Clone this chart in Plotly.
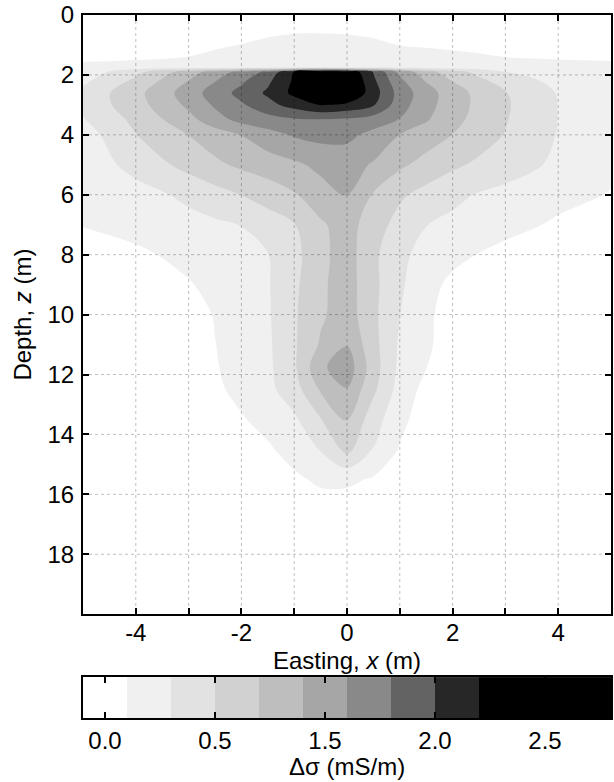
import plotly.graph_objects as go

# ---- data (delta sigma in mS/m) ----
easting = [-5, -4, -3, -2.5, -2, -1.5, -1, -0.5, 0, 0.5, 1, 1.5, 2, 2.5, 3, 4, 5]
depth = [0, 0.5, 1.0, 1.4, 1.75, 1.9, 2.2, 2.6, 3.0, 3.5, 4.0, 5.0, 6.0, 7.0, 8.0,
         9.0, 10.0, 11.0, 11.75, 12.5, 13.5, 14.5, 15.5, 16.5, 18.0, 20.0]
dsigma = [
    [0]*17,
    [0, 0, 0.01, 0.02, 0.03, 0.05, 0.07, 0.07, 0.066, 0.05, 0.03, 0.02, 0.01, 0, 0, 0, 0],
    [0, 0.02, 0.06, 0.08, 0.104, 0.15, 0.19, 0.2, 0.18, 0.14, 0.094, 0.076, 0.06, 0.044, 0.03, 0.01, 0],
    [0.03, 0.06, 0.102, 0.13, 0.16, 0.18, 0.2, 0.21, 0.21, 0.2, 0.19, 0.18, 0.15, 0.124, 0.098, 0.07, 0.05],
    [0.18, 0.2, 0.21, 0.22, 0.23, 0.24, 0.26, 0.26, 0.26, 0.25, 0.24, 0.23, 0.22, 0.21, 0.2, 0.19, 0.18],
    [0.18, 0.44, 0.802, 0.994, 1.162, 1.346, 1.71, 2.0, 1.88, 1.49, 1.044, 0.778, 0.592, 0.44, 0.302, 0.22, 0.18],
    [0.258, 0.542, 0.904, 1.092, 1.266, 1.46, 1.73, 2.1, 1.96, 1.542, 1.146, 0.888, 0.694, 0.55, 0.418, 0.24, 0.16],
    [0.354, 0.638, 0.996, 1.194, 1.362, 1.534, 1.75, 2.1, 1.92, 1.594, 1.218, 0.986, 0.796, 0.642, 0.512, 0.288, 0.18],
    [0.354, 0.62, 0.94, 1.128, 1.272, 1.434, 1.58, 1.71, 1.66, 1.52, 1.186, 0.968, 0.796, 0.65, 0.524, 0.296, 0.19],
    [0.286, 0.55, 0.834, 1.02, 1.16, 1.22, 1.27, 1.28, 1.26, 1.2, 1.09, 0.918, 0.762, 0.63, 0.512, 0.296, 0.19],
    [0.208, 0.494, 0.704, 0.8, 0.904, 1.026, 1.12, 1.16, 1.15, 1.042, 0.896, 0.8, 0.696, 0.594, 0.49, 0.29, 0.19],
    [0.172, 0.37, 0.566, 0.662, 0.738, 0.8, 0.862, 0.95, 0.98, 0.88, 0.738, 0.63, 0.538, 0.462, 0.396, 0.26, 0.14],
    [0.17, 0.22, 0.346, 0.424, 0.504, 0.59, 0.682, 0.82, 0.91, 0.684, 0.53, 0.434, 0.35, 0.284, 0.242, 0.158, 0.09],
    [0.11, 0.17, 0.236, 0.268, 0.304, 0.396, 0.49, 0.67, 0.79, 0.584, 0.434, 0.304, 0.254, 0.21, 0.164, 0.072, 0],
    [0, 0.062, 0.156, 0.202, 0.248, 0.296, 0.438, 0.65, 0.79, 0.544, 0.34, 0.24, 0.166, 0.092, 0.04, 0, 0],
    [0, 0, 0.086, 0.152, 0.218, 0.284, 0.458, 0.666, 0.79, 0.552, 0.328, 0.182, 0.046, 0, 0, 0, 0],
    [0, 0, 0, 0.114, 0.194, 0.276, 0.476, 0.67, 0.8, 0.544, 0.304, 0.146, 0, 0, 0, 0, 0],
    [0, 0, 0, 0.096, 0.184, 0.266, 0.472, 0.724, 0.89, 0.566, 0.272, 0.128, 0.02, 0, 0, 0, 0],
    [0, 0, 0, 0.086, 0.172, 0.258, 0.466, 0.86, 1.02, 0.588, 0.254, 0.104, 0, 0, 0, 0, 0],
    [0, 0, 0, 0.064, 0.154, 0.246, 0.414, 0.722, 0.89, 0.54, 0.22, 0.04, 0, 0, 0, 0, 0],
    [0, 0, 0, 0, 0.082, 0.172, 0.264, 0.49, 0.72, 0.386, 0.154, 0, 0, 0, 0, 0, 0],
    [0, 0, 0, 0, 0, 0.07, 0.184, 0.31, 0.56, 0.29, 0.084, 0, 0, 0, 0, 0, 0],
    [0, 0, 0, 0, 0, 0, 0.06, 0.14, 0.14, 0.08, 0, 0, 0, 0, 0, 0, 0],
    [0]*17,
    [0]*17,
    [0]*17,
]

# contour levels (mS/m) and band colours
levels = [0.1, 0.3, 0.5, 0.7, 0.9, 1.1, 1.3, 1.5, 1.7]
band_colors = ["#ffffff", "#f0f0f0", "#e2e2e2", "#d1d1d1", "#bebebe",
               "#a6a6a6", "#898989", "#636363", "#272727", "#000000"]
cbar_range = [-0.1, 2.3]
cbar_tickvals = [0.0, 0.5, 1.0, 1.5, 2.0]
cbar_ticktext = ["0.0", "0.5", "1.5", "2.0", "2.5"]

x_ticks = [-4, -3, -2, -1, 0, 1, 2, 3, 4]
x_ticklabels = ["-4", "", "-2", "", "0", "", "2", "", "4"]
z_ticks = [0, 2, 4, 6, 8, 10, 12, 14, 16, 18]

FONT = "Liberation Sans, Arial, Helvetica, sans-serif"
FS = 24
nb = len(band_colors)
cscale = [[k / (nb - 1), c] for k, c in enumerate(band_colors)]

fig = go.Figure()
fig.add_trace(go.Contour(
    x=easting, y=depth, z=dsigma,
    contours=dict(start=levels[0], end=levels[-1], size=levels[1] - levels[0],
                  coloring="fill", showlines=False),
    colorscale=cscale, showscale=False,
    line=dict(width=0, smoothing=1.0),
    hoverinfo="skip",
    xaxis="x", yaxis="y",
))

# horizontal colour bar drawn as a heatmap
cb_edges = [cbar_range[0]] + levels + [cbar_range[1]]
fig.add_trace(go.Heatmap(
    x=cb_edges, y=[0, 1], z=[list(range(nb))],
    colorscale=cscale, zmin=0, zmax=nb - 1, showscale=False,
    hoverinfo="skip", xaxis="x2", yaxis="y2",
))

# dotted grid drawn above the filled contours
grid_line = dict(color="rgba(0,0,0,0.25)", width=1, dash="dot")
shapes = []
for xv in x_ticks:
    shapes.append(dict(type="line", xref="x", yref="y", x0=xv, x1=xv, y0=0, y1=20,
                       line=grid_line, layer="above"))
for zv in z_ticks[1:]:
    shapes.append(dict(type="line", xref="x", yref="y", x0=-5, x1=5, y0=zv, y1=zv,
                       line=grid_line, layer="above"))

axis_common = dict(showline=True, linecolor="black", linewidth=2, mirror="ticks",
                   ticks="inside", ticklen=6, tickwidth=2, tickcolor="black",
                   showgrid=False, zeroline=False,
                   tickfont=dict(family=FONT, size=FS, color="black"))

# plot area spans pixels 14..718 vertically (704 px)
annotations = [
    dict(text="Easting, <i>x</i> (m)", xref="paper", yref="paper",
         x=0.5, y=(718 - 660) / 704, xanchor="center", yanchor="middle",
         showarrow=False, font=dict(family=FONT, size=FS, color="black")),
    dict(text="Δσ (mS/m)", xref="paper", yref="paper",
         x=0.5, y=(718 - 767) / 704, xanchor="center", yanchor="middle",
         showarrow=False, font=dict(family=FONT, size=FS, color="black")),
]

fig.update_layout(
    width=614, height=782,
    margin=dict(l=83, r=1, t=14, b=64),
    paper_bgcolor="white", plot_bgcolor="white",
    font=dict(family=FONT, size=FS, color="black"),
    showlegend=False,
    shapes=shapes,
    annotations=annotations,
    xaxis=dict(domain=[0, 1], anchor="y", range=[-5, 5],
               tickvals=x_ticks, ticktext=x_ticklabels, ticklabelstandoff=-4,
               **axis_common),
    yaxis=dict(domain=[0.1477, 1], anchor="x", range=[20, 0],
               tickvals=z_ticks, ticklabelstandoff=2,
               title=dict(text="Depth, <i>z</i> (m)", standoff=9,
                          font=dict(family=FONT, size=FS)),
               **axis_common),
    xaxis2=dict(domain=[0, 1], anchor="y2", range=cbar_range,
                tickvals=cbar_tickvals, ticktext=cbar_ticktext, ticklabelstandoff=0,
                **axis_common),
    yaxis2=dict(domain=[0, 0.0582], anchor="x2", range=[0, 1],
                showline=True, linecolor="black", linewidth=2, mirror=True,
                ticks="", showticklabels=False, showgrid=False, zeroline=False),
)

fig.write_html("out.html")
